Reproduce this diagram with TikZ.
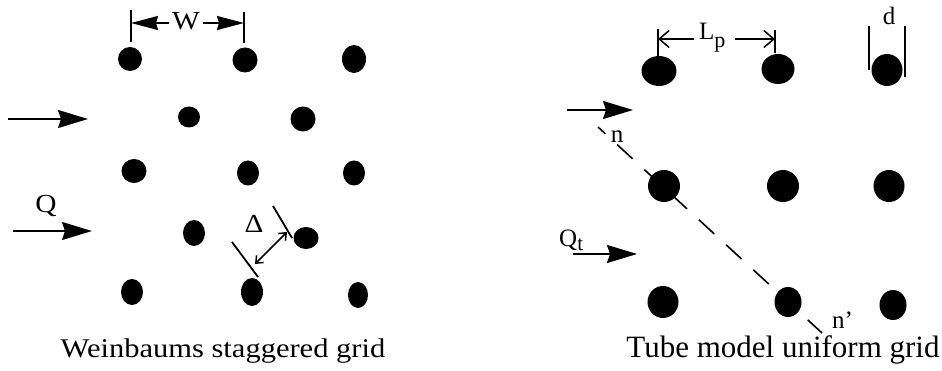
\documentclass[tikz,border=0pt]{standalone}
\usepackage{fontspec}
\setmainfont{Liberation Serif}
\newfontfamily\wideserif{Liberation Serif}[FakeStretch=1.13]
\usetikzlibrary{arrows.meta,shapes.geometric}
\begin{document}
\begin{tikzpicture}[x=1pt,y=-1pt,
  dot/.style={ellipse,fill=black,draw=none,inner sep=0pt},
  lbl/.style={inner sep=0pt,anchor=base,font=\wideserif\fontsize{26}{28}\selectfont},
  rlbl/.style={inner sep=0pt,anchor=base,font=\fontsize{25}{28}\selectfont},
  captext/.style={inner sep=0pt,anchor=base},
  ln/.style={line width=1.8pt},
  bigarrow/.style={ln,-{Stealth[length=30pt,width=18pt,inset=3pt]}},
  warrow/.style={ln,-{Stealth[length=27pt,width=14pt,inset=2pt]}},
  openarrow/.style={line width=1.5pt,-{Straight Barb[length=10pt,width=17pt]}},
  darrow/.style={line width=1.5pt,{Straight Barb[length=6pt,width=10pt]}-{Straight Barb[length=6pt,width=10pt]}}
]
\useasboundingbox (0,0) rectangle (942,371);
% left grid
\node[dot,minimum width=24pt,minimum height=24pt] (a11) at (130,59) {};
\node[dot,minimum width=25pt,minimum height=25pt] (a12) at (245,60) {};
\node[dot,minimum width=24pt,minimum height=28pt] (a13) at (354,59) {};
\node[dot,minimum width=22pt,minimum height=21pt] (a21) at (189,117) {};
\node[dot,minimum width=25pt,minimum height=25pt] (a22) at (303,119) {};
\node[dot,minimum width=25pt,minimum height=24pt] (a31) at (134,171) {};
\node[dot,minimum width=22pt,minimum height=25pt] (a32) at (248,173) {};
\node[dot,minimum width=22pt,minimum height=25pt] (a33) at (354,173) {};
\node[dot,minimum width=22pt,minimum height=26pt] (a41) at (194,233) {};
\node[dot,minimum width=25pt,minimum height=22pt] (a42) at (306,238) {};
\node[dot,minimum width=22pt,minimum height=26pt] (a51) at (132,292) {};
\node[dot,minimum width=22pt,minimum height=28pt] (a52) at (252,292) {};
\node[dot,minimum width=20pt,minimum height=26pt] (a53) at (358,295) {};
% flow arrows left
\coordinate (f1s) at (8,119); \coordinate (f1e) at (88,119);
\draw[bigarrow] (f1s) -- (f1e);
\coordinate (f2s) at (13,231); \coordinate (f2e) at (92,231);
\draw[bigarrow] (f2s) -- (f2e);
\node[lbl] (Q) at (46,213) {Q};
% W dimension
\coordinate (wt1a) at (131,10); \coordinate (wt1b) at (131,42);
\coordinate (wt2a) at (244,12); \coordinate (wt2b) at (244,43);
\draw[ln] (wt1a) -- (wt1b);
\draw[ln] (wt2a) -- (wt2b);
\node[lbl] (W) at (186,30) {W};
\coordinate (wl) at (131,23); \coordinate (wr) at (244,23);
\coordinate (wls) at (169,23); \coordinate (wrs) at (203,23);
\draw[warrow] (wls) -- (wl);
\draw[warrow] (wrs) -- (wr);
% Delta
\coordinate (d1a) at (273,206); \coordinate (d1b) at (292,238);
\coordinate (d2a) at (232,242); \coordinate (d2b) at (258,277);
\draw[ln] (d1a) -- (d1b);
\draw[ln] (d2a) -- (d2b);
\coordinate (da) at (255,264); \coordinate (db) at (287,232);
\draw[darrow] (da) -- (db);
\node[lbl] (Delta) at (254,233) {Δ};
\node[captext,font=\wideserif\fontsize{27}{30}\selectfont] (capL) at (223,357) {Weinbaums staggered grid};
% dashed section line (drawn under the dots)
\coordinate (na) at (598,127); \coordinate (nb) at (822,333);
\draw[line width=1.6pt,dash pattern=on 21pt off 16pt,dash phase=11pt] (na) -- (nb);
% right grid
\node[dot,minimum width=35pt,minimum height=30pt] (b11) at (659,71) {};
\node[dot,minimum width=33pt,minimum height=30pt] (b12) at (778,69) {};
\node[dot,minimum width=31pt,minimum height=32pt] (b13) at (887,70) {};
\node[dot,minimum width=32pt,minimum height=32pt] (b21) at (664,186) {};
\node[dot,minimum width=32pt,minimum height=32pt] (b22) at (783,186) {};
\node[dot,minimum width=31pt,minimum height=32pt] (b23) at (889,186) {};
\node[dot,minimum width=31pt,minimum height=32pt] (b31) at (663,302) {};
\node[dot,minimum width=27pt,minimum height=30pt] (b32) at (788,302) {};
\node[dot,minimum width=27pt,minimum height=30pt] (b33) at (893,305) {};
% flow arrows right
\coordinate (g1s) at (567,110); \coordinate (g1e) at (633,110);
\draw[bigarrow] (g1s) -- (g1e);
\coordinate (g2s) at (573,254); \coordinate (g2e) at (637,254);
\draw[bigarrow] (g2s) -- (g2e);
\node[rlbl,anchor=base west] (Qt) at (559,247) {Q\raisebox{-4pt}{\fontsize{21}{22}\selectfont t}};
% Lp dimension
\coordinate (lt1a) at (658,29); \coordinate (lt1b) at (658,56);
\coordinate (lt2a) at (775,30); \coordinate (lt2b) at (775,53);
\draw[line width=1.5pt] (lt1a) -- (lt1b);
\draw[line width=1.5pt] (lt2a) -- (lt2b);
\node[rlbl,anchor=base west] (Lp) at (699,40) {L\raisebox{-8pt}{\fontsize{22}{24}\selectfont p}};
\coordinate (ll) at (658,39); \coordinate (lr) at (775,39);
\coordinate (lls) at (694,39); \coordinate (lrs) at (735,39);
\draw[openarrow] (lls) -- (ll);
\draw[openarrow] (lrs) -- (lr);
% d dimension
\coordinate (dt1a) at (869,26); \coordinate (dt1b) at (869,70);
\coordinate (dt2a) at (905,26); \coordinate (dt2b) at (905,77);
\draw[line width=1.5pt] (dt1a) -- (dt1b);
\draw[line width=1.5pt] (dt2a) -- (dt2b);
\node[rlbl] (d) at (889,25) {d};
\node[rlbl] (n) at (617,143) {n};
\node[rlbl,anchor=base west] (np) at (832,328) {n’};
\node[captext,font=\fontsize{31}{34}\selectfont] (capR) at (783,357) {Tube model uniform grid};
\end{tikzpicture}
\end{document}
